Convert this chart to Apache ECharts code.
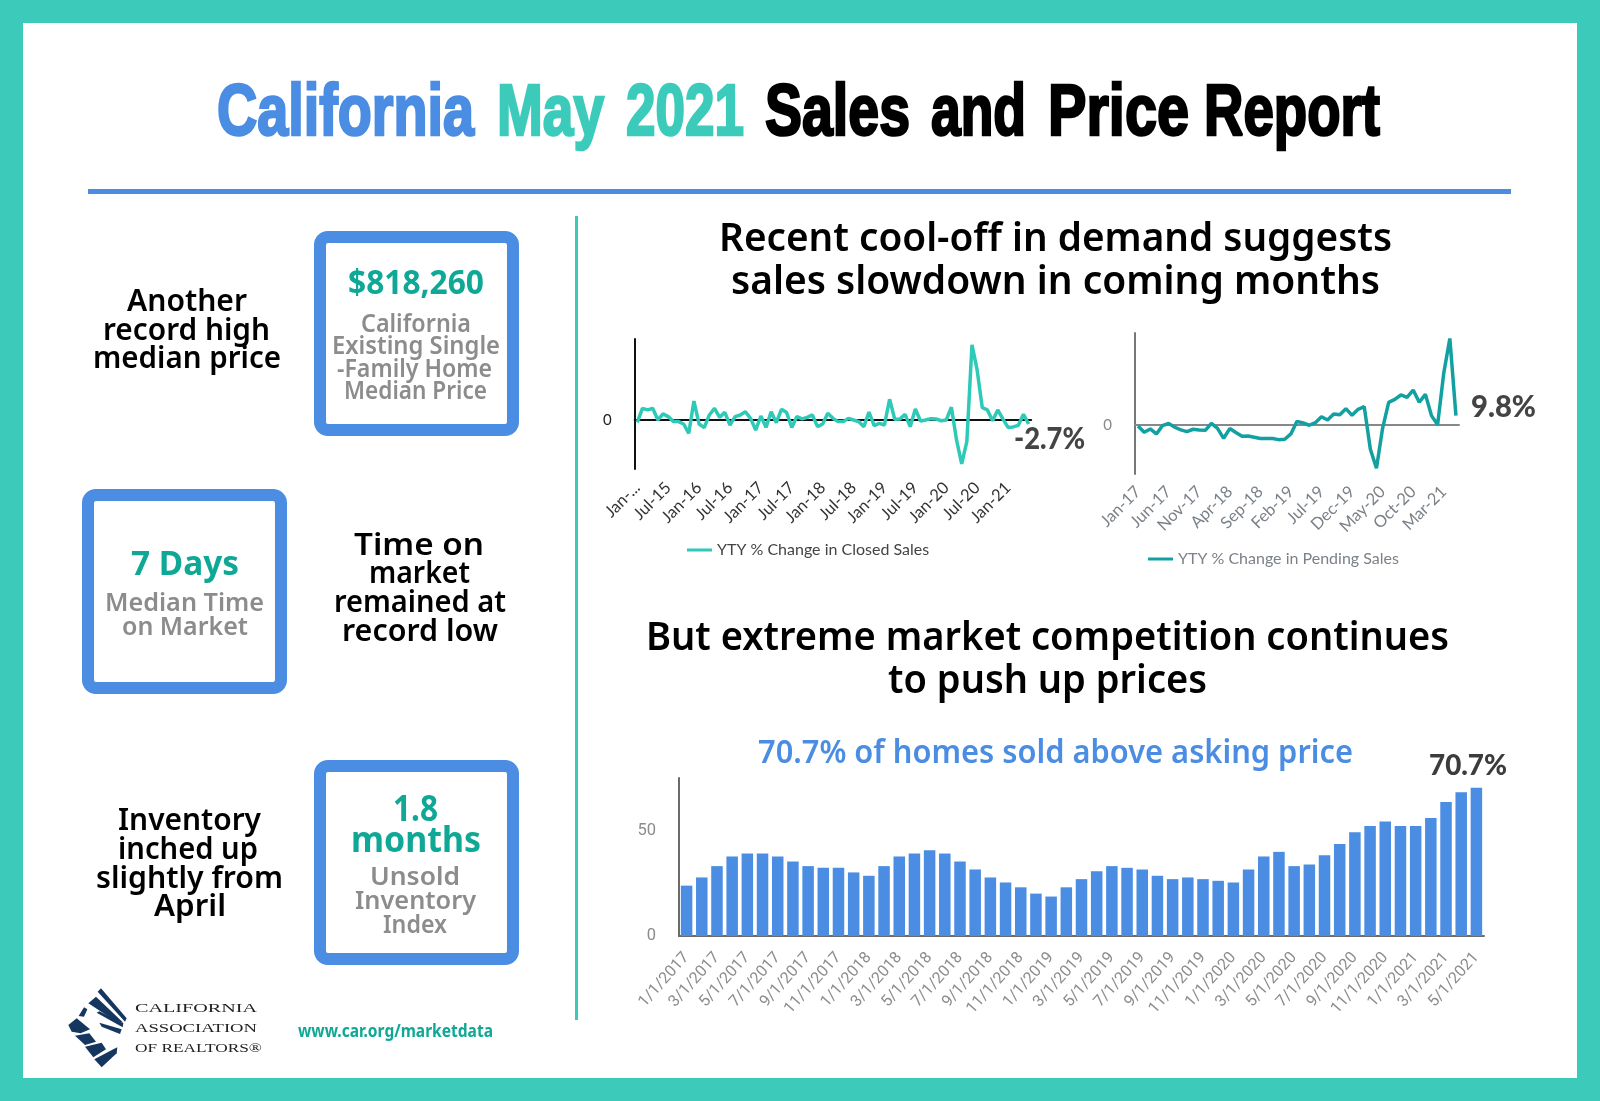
<!DOCTYPE html>
<html><head><meta charset="utf-8">
<style>html,body{margin:0;padding:0;background:#fff}#c{width:1600px;height:1101px}</style>
<script src="https://cdn.jsdelivr.net/npm/echarts@6/dist/echarts.min.js"></script>
</head><body><div id="c"></div>
<script>
const closedMonths = ["Jan-...","Feb-15","Mar-15","Apr-15","May-15","Jun-15","Jul-15","Aug-15","Sep-15","Oct-15","Nov-15","Dec-15",
"Jan-16","Feb-16","Mar-16","Apr-16","May-16","Jun-16","Jul-16","Aug-16","Sep-16","Oct-16","Nov-16","Dec-16",
"Jan-17","Feb-17","Mar-17","Apr-17","May-17","Jun-17","Jul-17","Aug-17","Sep-17","Oct-17","Nov-17","Dec-17",
"Jan-18","Feb-18","Mar-18","Apr-18","May-18","Jun-18","Jul-18","Aug-18","Sep-18","Oct-18","Nov-18","Dec-18",
"Jan-19","Feb-19","Mar-19","Apr-19","May-19","Jun-19","Jul-19","Aug-19","Sep-19","Oct-19","Nov-19","Dec-19",
"Jan-20","Feb-20","Mar-20","Apr-20","May-20","Jun-20","Jul-20","Aug-20","Sep-20","Oct-20","Nov-20","Dec-20",
"Jan-21","Feb-21","Mar-21","Apr-21","May-21"];
const closedSales = [-1.6,7.9,6.8,7.9,0,4.1,2.3,-1.1,-1.1,-2.7,-9.0,12.8,-2.7,-5.2,3.4,7.9,1.8,5.2,-3.4,2.3,3.4,5.6,1.1,-6.8,2.7,-5.0,5.6,-1.8,7.2,5.0,-5.0,2.3,0.7,1.8,3.4,-4.5,-2.7,4.5,1.1,-1.1,-1.1,1.1,0,-1.1,-4.5,5.4,-3.8,-2.3,-3.4,14.0,0.5,0.7,3.8,-4.5,7.4,-0.7,0,0.9,0.7,-0.5,0,8.6,-13.5,-29.7,-14.6,50.7,33.8,8.3,6.8,-0.5,6.8,0.7,-5.0,-4.7,-3.6,3.8,-2.7];
const pendingMonths = ["Jan-17","Feb-17","Mar-17","Apr-17","May-17","Jun-17","Jul-17","Aug-17","Sep-17","Oct-17","Nov-17","Dec-17",
"Jan-18","Feb-18","Mar-18","Apr-18","May-18","Jun-18","Jul-18","Aug-18","Sep-18","Oct-18","Nov-18","Dec-18",
"Jan-19","Feb-19","Mar-19","Apr-19","May-19","Jun-19","Jul-19","Aug-19","Sep-19","Oct-19","Nov-19","Dec-19",
"Jan-20","Feb-20","Mar-20","Apr-20","May-20","Jun-20","Jul-20","Aug-20","Sep-20","Oct-20","Nov-20","Dec-20",
"Jan-21","Feb-21","Mar-21","Apr-21","May-21"];
const pendingSales = [-1.0,-7.7,-4.2,-9.4,-0.7,1.7,-2.4,-5.2,-7.0,-4.5,-5.2,-5.6,1.7,-3.5,-14.0,-3.8,-8.0,-11.9,-11.5,-12.9,-14.3,-14.3,-14.3,-15.4,-15.0,-9.4,3.8,2.1,-0.3,2.4,8.7,5.2,11.5,10.8,17.1,10.1,16.4,19.2,-25.5,-45.5,-3.5,23.8,26.9,31.5,29.0,36.7,23.8,32.2,9.8,0.3,54.2,90.9,9.8];
const askMonths = ["1/1/2017","2/1/2017","3/1/2017","4/1/2017","5/1/2017","6/1/2017","7/1/2017","8/1/2017","9/1/2017","10/1/2017","11/1/2017","12/1/2017",
"1/1/2018","2/1/2018","3/1/2018","4/1/2018","5/1/2018","6/1/2018","7/1/2018","8/1/2018","9/1/2018","10/1/2018","11/1/2018","12/1/2018",
"1/1/2019","2/1/2019","3/1/2019","4/1/2019","5/1/2019","6/1/2019","7/1/2019","8/1/2019","9/1/2019","10/1/2019","11/1/2019","12/1/2019",
"1/1/2020","2/1/2020","3/1/2020","4/1/2020","5/1/2020","6/1/2020","7/1/2020","8/1/2020","9/1/2020","10/1/2020","11/1/2020","12/1/2020",
"1/1/2021","2/1/2021","3/1/2021","4/1/2021","5/1/2021"];
const soldAboveAsking = [24.0,27.9,33.3,37.9,39.3,39.3,37.9,35.5,33.3,32.5,32.5,30.3,28.7,33.3,37.9,39.3,40.9,39.3,35.5,31.7,27.9,25.5,23.2,20.2,18.8,23.2,27.1,30.9,33.3,32.5,31.7,28.7,27.1,27.9,27.1,26.3,25.5,31.7,37.9,40.1,33.3,34.1,38.5,43.9,49.4,52.4,54.6,52.4,52.4,56.2,63.9,68.5,70.7];

const TEAL='#3ccbbb', BLUE='#4a8de3', GREEN='#0fa896', GREY='#8c8c8c';
const BODY='"Noto Sans"';
const mc=document.createElement('canvas').getContext('2d');

function fit(text,left,right,y,size,weight,family,fill,sy){
  const font=`${weight} ${size}px ${family}`;
  mc.font=font;
  const w=mc.measureText(text).width;
  return {type:'text',x:left,y:y,scaleX:(right-left)/w,scaleY:sy||1,z:10,silent:true,
    style:{text:text,font:font,fill:fill,textAlign:'left',textVerticalAlign:'middle'}};
}
function rect(x,y,w,h,fill){return {type:'rect',silent:true,z:-2,shape:{x,y,width:w,height:h},style:{fill}};}
function box(x,y,s){return {type:'rect',silent:true,z:2,shape:{x:x+6,y:y+6,width:s-12,height:s-12,r:8},style:{fill:'#fff',stroke:BLUE,lineWidth:12}};}
function poly(pts){return {type:'polygon',silent:true,z:3,shape:{points:pts.map(p=>[60+p[0]/3,970+p[1]/3])},style:{fill:'#14365f'}};}

const graphics=[
  rect(0,0,1600,1101,TEAL), rect(23,23,1554,1055,'#fff'),
  rect(88,189,1423,5,BLUE), rect(575,216,3,804,TEAL),
  box(314,231,205), box(82,489,205), box(314,760,205),
];
[['California',217,474,BLUE],['May',497,604,TEAL],['2021',626,744,TEAL],['Sales',765,910,'#000'],['and',931,1026,'#000'],['Price',1048,1189,'#000'],['Report',1204,1380,'#000']]
 .forEach(t=>{const g=fit(t[0],t[1],t[2],115,71,'bold','"Liberation Sans"',t[3],1.02);g.style.stroke=t[3];g.style.lineWidth=2.5;graphics.push(g);});

[['Recent cool-off in demand suggests',719,1392,240],['sales slowdown in coming months',731,1380,283],
 ['But extreme market competition continues',646,1449,639],['to push up prices',888,1207,682]]
 .forEach(t=>graphics.push(fit(t[0],t[1],t[2],t[3],39,600,BODY,'#000')));
graphics.push(fit('70.7% of homes sold above asking price',758,1353,754,32,600,BODY,BLUE));
graphics.push(fit('70.7%',1429,1507,766,28,900,'Lato','#3c3c3c'));
graphics.push(fit('-2.7%',1014,1085,439,30,900,'Lato','#444'));
graphics.push(fit('9.8%',1471,1536,407,30,900,'Lato','#444'));

[['Another',127,247,302],['record high',103,270,331],['median price',93,281,359],
 ['Time on',354,484,546],['market',369,470,574],['remained at',334,506,603],['record low',342,498,632],
 ['Inventory',118,261,821],['inched up',118,258,850],['slightly from',96,283,879],['April',154,226,907]]
 .forEach(t=>graphics.push(fit(t[0],t[1],t[2],t[3],31,600,BODY,'#000')));

[['$818,260',348,484,284,34],['7 Days',131,239,565,34],['1.8',393,438,811,36],['months',351,481,842,36]]
 .forEach(t=>graphics.push(fit(t[0],t[1],t[2],t[3],t[4],'bold',BODY,GREEN)));
[['California',361,471,325],['Existing Single',332,500,347],['-Family Home',337,492,370],['Median Price',344,487,392],
 ['Median Time',105,264,604],['on Market',122,248,628],
 ['Unsold',370,460,878],['Inventory',355,476,902],['Index',383,447,926]]
 .forEach(t=>graphics.push(fit(t[0],t[1],t[2],t[3],26,600,BODY,GREY)));

graphics.push(fit('www.car.org/marketdata',298,493,1032,18,'bold',BODY,GREEN));
[['CALIFORNIA',135,257,1009],['ASSOCIATION',135,257,1029],['OF REALTORS®',135,262,1049]]
 .forEach(t=>graphics.push(fit(t[0],t[1],t[2],t[3],13,'normal','"Liberation Serif"','#222')));
[[[113,65],[123,55],[200,145],[195,155]],
 [[85,100],[108,80],[190,158],[165,152]],
 [[110,128],[118,124],[190,160],[188,172]],
 [[118,158],[185,178],[180,192],[125,170]],
 [[25,165],[50,145],[90,178],[62,190],[35,185]],
 [[45,197],[88,190],[108,215],[75,225]],
 [[75,230],[125,218],[138,238],[100,262]],
 [[103,268],[160,238],[172,232],[170,250],[125,292]],
 [[56,138],[72,112],[82,118],[72,140]]
].forEach(p=>graphics.push(poly(p)));

const noAxisBits={axisTick:{show:false},splitLine:{show:false}};
const option={
  animation:false,
  backgroundColor:'#fff',
  graphic:{elements:graphics},
  legend:[
    {show:true,data:['YTY % Change in Closed Sales'],left:687,top:542,padding:0,icon:'rect',itemWidth:25,itemHeight:3,itemGap:8,
     textStyle:{fontFamily:'Lato',fontSize:16,color:'#444'}},
    {show:true,data:['YTY % Change in Pending Sales'],left:1148,top:551,padding:0,icon:'rect',itemWidth:25,itemHeight:3,itemGap:8,
     textStyle:{fontFamily:'Lato',fontSize:16,color:'#7b8188'}}
  ],
  grid:[
    {left:634.7,top:339,width:396.5,height:130},
    {left:1135,top:333,width:324,height:141},
    {left:679,top:778,width:805,height:158}
  ],
  xAxis:[
    {type:'category',gridIndex:0,data:closedMonths,position:'bottom',axisLine:{show:false,onZero:false},...noAxisBits,
     axisLabel:{interval:5,rotate:45,margin:16,fontFamily:'Lato',fontSize:16.5,color:'#333'}},
    {type:'category',gridIndex:0,data:closedMonths,position:'bottom',axisLine:{show:true,onZero:true,lineStyle:{color:'#111',width:2}},...noAxisBits,axisLabel:{show:false}},
    {type:'category',gridIndex:1,data:pendingMonths,position:'bottom',axisLine:{show:false,onZero:false},...noAxisBits,
     axisLabel:{interval:4,rotate:45,margin:15,fontFamily:'Lato',fontSize:16.5,color:'#7b8188'}},
    {type:'category',gridIndex:1,data:pendingMonths,position:'bottom',axisLine:{show:true,onZero:true,lineStyle:{color:'#888',width:2}},...noAxisBits,axisLabel:{show:false}},
    {type:'category',gridIndex:2,data:askMonths,position:'bottom',axisLine:{show:true,lineStyle:{color:'#6b6b6b',width:2}},...noAxisBits,
     axisLabel:{interval:1,rotate:48,margin:19,fontFamily:'Roboto',fontSize:16,color:'#8c8c8c'}}
  ],
  yAxis:[
    {type:'value',gridIndex:0,min:-33.1,max:54.7,axisLine:{show:true,onZero:false,lineStyle:{color:'#111',width:2}},...noAxisBits,
     axisLabel:{customValues:[0],margin:23,fontFamily:'Lato',fontSize:15,color:'#222'}},
    {type:'value',gridIndex:1,min:-51.5,max:96.6,axisLine:{show:true,onZero:false,lineStyle:{color:'#777',width:2}},...noAxisBits,
     axisLabel:{customValues:[0],margin:23,fontFamily:'Lato',fontSize:15,color:'#888'}},
    {type:'value',gridIndex:2,min:0,max:75.3,axisLine:{show:true,onZero:false,lineStyle:{color:'#6b6b6b',width:2}},...noAxisBits,
     axisLabel:{customValues:[0,50],margin:23,fontFamily:'Roboto',fontSize:16.5,color:'#8c8c8c'}}
  ],
  series:[
    {name:'YTY % Change in Closed Sales',type:'line',xAxisIndex:0,yAxisIndex:0,data:closedSales,showSymbol:false,symbol:'none',
     lineStyle:{color:'#2fc9b7',width:3.5},itemStyle:{color:'#2fc9b7'}},
    {name:'YTY % Change in Pending Sales',type:'line',xAxisIndex:2,yAxisIndex:1,data:pendingSales,showSymbol:false,symbol:'none',
     lineStyle:{color:'#12a0a2',width:3.5},itemStyle:{color:'#12a0a2'}},
    {name:'Homes sold above asking price',type:'bar',xAxisIndex:4,yAxisIndex:2,data:soldAboveAsking,barWidth:11.5,
     itemStyle:{color:'#4a8de3'}}
  ]
};
const chart=echarts.init(document.getElementById('c'),null,{width:1600,height:1101});
chart.setOption(option);
</script></body></html>
